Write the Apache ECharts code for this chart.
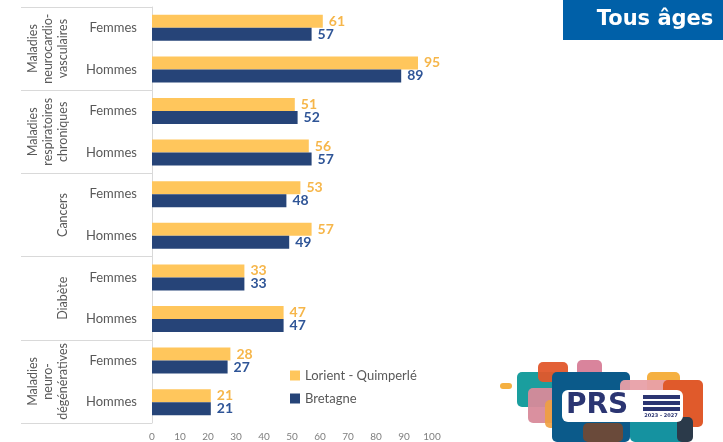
<!DOCTYPE html>
<html>
<head>
<meta charset="utf-8">
<script src="https://cdn.jsdelivr.net/npm/echarts@6/dist/echarts.min.js"></script>
<style>
  html, body { margin: 0; padding: 0; background: #fff; }
  #chart { width: 723px; height: 442px; }
</style>
</head>
<body>
<div id="chart"></div>
<script>
// groupes de pathologies (lignes du libellé vertical)
var groups = [
  ['Maladies', 'neurocardio-', 'vasculaires'],
  ['Maladies', 'respiratoires', 'chroniques'],
  ['Cancers'],
  ['Diabète'],
  ['Maladies', 'neuro-', 'dégénératives']
];
var sexes = ['Femmes', 'Hommes'];
var seriesNames = ['Lorient - Quimperlé', 'Bretagne'];
var lorient = [61, 95, 51, 56, 53, 57, 33, 47, 28, 21];
var bretagne = [57, 89, 52, 57, 48, 49, 33, 47, 27, 21];
var xTicks = { min: 0, max: 100, interval: 10 };

var FONT = 'Lato';
var GREY = '#595959';

var categories = [];
groups.forEach(function () {
  sexes.forEach(function (s) { categories.push(s); });
});

var chart = echarts.init(document.getElementById('chart'));

function barSeries(name, data, barColor, labelColor) {
  return {
    name: name,
    type: 'bar',
    data: data,
    barWidth: 13,
    barGap: '0%',
    itemStyle: { color: barColor },
    label: {
      show: true,
      position: 'right',
      distance: 6,
      color: labelColor,
      fontFamily: FONT,
      fontWeight: 'bold',
      fontSize: 14
    }
  };
}

chart.setOption({
  animation: false,
  grid: { left: 152, right: 291, top: 7, bottom: 19 },
  legend: {
    orient: 'vertical',
    left: 285,
    top: 364,
    itemWidth: 10,
    itemHeight: 10,
    itemGap: 10,
    icon: 'rect',
    textStyle: { color: GREY, fontFamily: FONT, fontSize: 13 },
    data: seriesNames
  },
  xAxis: {
    type: 'value',
    min: xTicks.min,
    max: xTicks.max,
    interval: xTicks.interval,
    axisLine: { show: false },
    axisTick: { show: false },
    splitLine: { show: false },
    axisLabel: { color: '#7F7F7F', fontFamily: FONT, fontSize: 10, margin: 9 }
  },
  yAxis: [{
    type: 'category',
    data: categories,
    inverse: true,
    axisLine: { show: true, lineStyle: { color: '#D9D9D9' } },
    axisTick: { show: false },
    axisLabel: { color: GREY, fontFamily: FONT, fontSize: 13, margin: 15 }
  }, {
    type: 'category',
    data: groups.map(function (g) { return g.join(' '); }),
    inverse: true,
    position: 'left',
    offset: 131,
    axisLine: { show: false },
    axisTick: { show: true, inside: true, length: 131, lineStyle: { color: '#D9D9D9' } },
    axisLabel: { show: false }
  }],
  series: [
    barSeries(seriesNames[0], lorient, '#FFC65C', '#F6B64A'),
    barSeries(seriesNames[1], bretagne, '#264478', '#2F5597')
  ]
});

// libellés de groupe, tournés, centrés sur chaque paire de catégories
var graphics = [];
groups.forEach(function (g, i) {
  var y0 = chart.convertToPixel({ yAxisIndex: 0 }, i * 2);
  var y1 = chart.convertToPixel({ yAxisIndex: 0 }, i * 2 + 1);
  var cx = 48 + (3 - g.length) * 7.5;
  graphics.push({
    type: 'text',
    x: cx,
    y: (y0 + y1) / 2,
    rotation: Math.PI / 2,
    style: {
      text: g.join('\n'),
      fill: GREY,
      font: '12.5px ' + FONT,
      lineHeight: 15,
      align: 'center',
      verticalAlign: 'middle'
    }
  });
});

// encart "Tous âges"
graphics.push({ type: 'rect', shape: { x: 563, y: 0, width: 160, height: 40 }, style: { fill: '#0060A8' } });
graphics.push({
  type: 'text', x: 655, y: 20,
  style: { text: 'Tous âges', fill: '#fff', font: 'bold 21px "DejaVu Sans"', align: 'center', verticalAlign: 'middle' }
});

// logo PRS (approximation décorative)
var blocks = [
  [500, 383, 12, 6, '#F5B041', 1],
  [517, 372, 53, 35, '#1A9E9E', 1],
  [538, 362, 30, 20, '#E2572B', 0.95],
  [577, 360, 25, 18, '#D9849C', 1],
  [528, 388, 39, 35, '#D88A9A', 0.95],
  [545, 400, 25, 28, '#F0A040', 0.9],
  [552, 372, 78, 70, '#0B5A8A', 1],
  [647, 372, 33, 21, '#F5B041', 1],
  [620, 380, 57, 27, '#E8A0A8', 0.95],
  [663, 380, 40, 47, '#E05A2B', 1],
  [630, 417, 60, 25, '#1592A0', 1],
  [677, 417, 16, 25, '#2B3A4A', 1],
  [583, 423, 40, 19, '#6A4A3A', 1]
];
blocks.forEach(function (b) {
  graphics.push({
    type: 'rect',
    shape: { x: b[0], y: b[1], width: b[2], height: b[3], r: 5 },
    style: { fill: b[4], opacity: b[5] }
  });
});
graphics.push({ type: 'rect', shape: { x: 562, y: 390, width: 121, height: 32, r: 6 }, style: { fill: '#fff' } });
graphics.push({
  type: 'text', x: 566, y: 406,
  style: { text: 'PRS', fill: '#2B3572', font: 'bold 28px "DejaVu Sans"', align: 'left', verticalAlign: 'middle' }
});
[395, 401, 407].forEach(function (yy) {
  graphics.push({ type: 'rect', shape: { x: 643, y: yy, width: 37, height: 4 }, style: { fill: '#2B3572' } });
});
graphics.push({
  type: 'text', x: 661, y: 416,
  style: { text: '2023 - 2027', fill: '#2B3572', font: 'bold 5px "DejaVu Sans"', align: 'center', verticalAlign: 'middle' }
});

chart.setOption({ graphic: graphics });
</script>
</body>
</html>
